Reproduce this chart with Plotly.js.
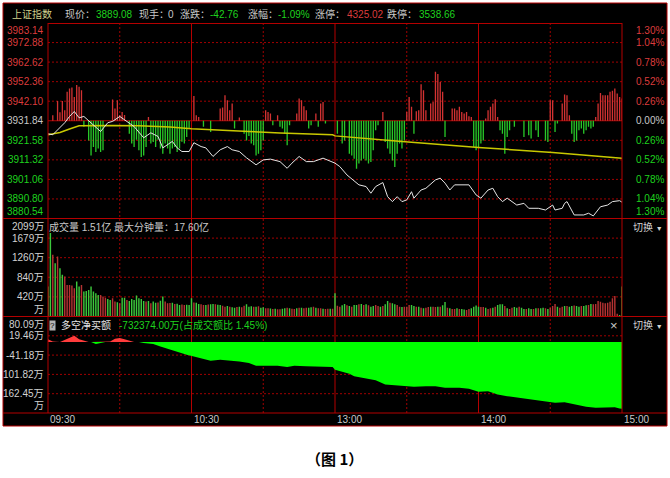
<!DOCTYPE html>
<html><head><meta charset="utf-8">
<script src="https://cdn.plot.ly/plotly-3.0.1.min.js"></script>
<style>html,body{margin:0;padding:0;background:#fff}#chart{width:670px;height:478px}</style>
</head><body><div id="chart"></div>
<script>
// ---------------- data ----------------
const priceMin = [0,2,7,9,11,13,15,18,22,25,27,30,33,36,40,43,46,48,52,54,56,59,61,64,66,69,72,75,77,80,83,87,90,93,97,100,102,105,108,111,115,119,120,122,125,130,133,135,137,140,142,144,146,148,150,152,153,156,158,162,164,166,168,170,173,176,179,181,184,186,188,190,192,196,199,201,205,208,211,212,215,216,217,220,224,226,228,231,234,236,239,240];
const priceVal = [3925.0,3924.5,3930.8,3934.1,3936.7,3933.4,3934.1,3930.8,3926.2,3930.8,3931.5,3934.1,3931.5,3928.8,3922.9,3925.5,3923.6,3917.6,3921.0,3917.6,3915.7,3915.7,3920.3,3918.3,3917.6,3913.1,3916.6,3918.3,3916.6,3915.7,3912.4,3908.7,3911.3,3911.7,3910.4,3906.9,3909.6,3913.1,3910.4,3910.4,3912.2,3910.4,3909.6,3907.8,3903.4,3898.2,3897.3,3893.8,3897.3,3899.4,3892.0,3889.4,3892.0,3889.4,3890.3,3894.6,3891.2,3895.5,3896.4,3900.8,3901.7,3899.1,3895.5,3898.2,3898.2,3898.2,3892.9,3891.2,3895.5,3896.4,3892.0,3889.4,3891.2,3887.6,3888.5,3885.9,3885.9,3885.0,3887.6,3885.0,3885.9,3888.5,3889.4,3882.4,3882.4,3883.3,3881.9,3886.7,3887.6,3889.4,3889.9,3889.08];

const avgMin = [0,5,9,13,27,38,51,60,84,97,119,120,148,180,211,240];
const avgVal = [3924.5,3925.7,3927.5,3929.2,3929.4,3929.2,3928.5,3927.6,3926.2,3925.4,3924.5,3923.9,3920.9,3917.8,3915.2,3912.2];

const prevClose = 3931.84;
// lead indicator bars (points relative to previous close)
const leadMin = [2,4,5,6,7,8,9,10,11,12,13,14,27,28,29,30,31,32,42,61,62,63,72,73,74,75,76,77,80,91,92,93,96,104,105,106,107,108,112,114,115,140,150,151,152,154,155,156,157,158,160,161,162,163,164,165,169,170,171,172,173,174,175,176,177,183,184,185,186,187,188,210,211,215,216,217,218,229,230,231,232,233,234,235,236,237,238,239,240,
 15,17,18,19,20,21,22,23,34,35,36,37,38,39,40,41,43,44,45,46,47,48,49,50,51,52,53,54,55,56,57,58,59,65,68,78,82,83,84,85,86,87,88,89,90,94,97,98,99,100,101,109,110,113,116,121,123,124,126,127,128,129,130,131,132,133,134,135,136,137,138,141,142,143,144,145,146,147,148,149,153,166,178,179,180,181,182,189,190,191,192,193,195,199,201,202,204,205,208,209,212,213,219,220,221,222,223,224,225,226,227,228];
const leadVal = [2.9,10.3,4.5,10.3,5.5,15.2,16.9,17.4,12.5,18.7,17.8,16,11.2,6.4,10.8,3,4.6,3,2,13,2.9,2,6.4,6.9,13.4,10.8,5.5,9,1.7,5.5,4.6,3.8,2.9,3.8,11.7,10.8,7.6,5.5,3.8,9,9.9,4.6,4.6,12.5,7.3,5,5.5,19.2,16,5.5,9,9.9,25.7,24.5,20.4,15.2,6.4,6.4,5.5,7.3,4.6,3.8,4.6,2.4,2,1.2,5.5,7.3,9,11.3,2,10.8,10.8,9,13.8,13.4,2.9,2,9,14.6,13.4,13.4,13.4,15.2,15.7,16.9,14.3,12.5,11.7,
 -3.2,-10.3,-18.2,-13.8,-16.4,-14.6,-16.4,-15.5,-6.8,-12,-13.8,-10,-15.5,-19,-18.2,-13.8,-12,-11.1,-13.8,-10,-14.6,-17.3,-12,-14.6,-17.3,-14.6,-13.8,-16.4,-14.6,-11,-12,-8.5,-4.1,-3.2,-5.9,-4.1,-6.8,-10.3,-8,-12,-12.9,-18.2,-17.3,-15.5,-10.3,-2.4,-3.2,-4.1,-6.8,-12.9,-2.4,-4.1,-2.4,-3.2,-1.5,-6.8,-12,-10.3,-17.3,-18.2,-19.9,-25.2,-22.5,-20.8,-19.9,-20.8,-22.5,-21.7,-15.5,-5,-2.4,-11.1,-14.6,-17.3,-20.8,-24.3,-17.3,-12,-14.6,-10.3,-6.8,-8.5,-13.8,-15.5,-13.8,-12,-10.3,-5,-6.8,-17.3,-8.5,-5,-3.2,-8.5,-7.6,-9.3,-5,-8.5,-10.3,-11.1,-5.9,-1.5,-6.8,-11.1,-10.3,-5,-4.1,-6.8,-5,-3.2,-4.1,-3.2];

// volume per minute (万), 09:30 .. 15:00
const volume = [640,1788,1322,1143,1286,1035,892,856,677,677,664,605,748,640,677,533,548,570,640,533,498,462,462,426,404,376,355,390,319,304,283,404,404,355,333,376,355,448,390,376,333,319,333,283,
 319,297,300,340,426,319,283,290,297,269,275,247,255,247,250,247,390,300,297,270,261,247,247,255,261,270,261,250,247,230,211,225,211,200,190,205,211,200,230,261,211,220,211,211,220,190,200,175,175,170,161,165,154,154,165,175,190,175,165,161,175,190,190,175,190,190,200,211,190,175,175,165,161,165,168,168,
 498,230,211,240,269,240,226,211,247,247,261,269,247,261,240,211,226,247,226,211,226,261,333,297,283,261,247,211,204,211,211,247,247,226,211,211,190,175,190,204,211,211,204,211,211,240,312,190,175,161,161,175,161,161,150,140,161,175,211,233,211,204,204,190,161,175,190,211,247,261,261,226,175,161,190,204,190,211,190,161,161,175,161,161,175,175,175,190,175,161,190,226,269,211,190,211,226,226,211,226,233,226,211,226,226,240,247,269,261,269,333,318,297,283,297,318,390,440,60,30,640];
const volColor = "GGRGRGGRRR"+"RRGGRGGGGG"+"GGRRRGGRRG"+"RGGRGGGGGG"+"GRGRGGRGGR"+"RRGRGGRRGG"+"GRGGRRGRGG"+"RGGRRGRGGR"+"GRRGGGRGRG"+"GRRGRGRRGG"+"RGRRGRGRRG"+"GRGRRGRRGR"+"GRRGGRGRGG"+"RGRGRGGRRG"+"RGGRGGRRGR"+"RRGGRGRGRR"+"GRRGRGGRGR"+"RGRGGRRGGG"+"GRRGRRGRGG"+"GRGRRGGRGG"+"RGGRGRGGRG"+"RRRGRRGRGG"+"RGGRGGRGRR"+"RRRRRRRRRG"+"G";

// net buy (万)
const nbMin = [0,2,5,7,9,11,13,15,16,17,18,20,22,24,26,28,30,32,34,36,38,40,44,47,50,54,58,61,65,68,72,77,80,84,87,91,96,100,103,108,114,119,120,123,126,128,133,137,141,145,149,153,158,162,166,172,176,180,184,188,192,197,201,206,212,216,220,225,229,233,237,239,240];
const nbVal = [9,1.6,0,6.9,12.2,19.4,9,4.7,1.6,0,0,-6.6,-3.4,0,1.6,10,12.2,9,4.7,0,0,-3.4,-6.6,-14,-21.3,-31.7,-40,-45.3,-53.5,-58.8,-55.6,-57.8,-61,-66,-74.4,-74.4,-74.4,-78.5,-74.4,-76.6,-78.5,-78.5,-86.9,-92.2,-99.4,-107.8,-116,-120.3,-133.8,-136.9,-139.1,-141,-139.1,-139.1,-144.1,-144.1,-147.2,-156.6,-154.7,-165,-170.4,-175.4,-180.7,-186,-191,-189.1,-196.3,-203.5,-206.6,-204.7,-204.7,-208.8,-210];

const priceTicks = [3983.14,3972.88,3962.62,3952.36,3942.10,3931.84,3921.58,3911.32,3901.06,3890.80,3880.54];
const pctTicks = ["1.30%","1.04%","0.78%","0.52%","0.26%","0.00%","0.26%","0.52%","0.78%","1.04%","1.30%"];
const volTicks = [2099,1679,1260,840,420,0];
const volTickText = ["2099万","1679万","1260万","840万","420万","万"];
const nbTicks = [80.09,19.46,-41.18,-101.82,-162.45,-223.08];
const nbTickText = ["80.09万","19.46万","-41.18万","101.82万","162.45万","万"];
const timeTicks = [0,60,120,180,240];
const timeText = ["09:30","10:30","13:00","14:00","15:00"];
const solidMinutes = [60,120,180];
const dashMinutes = [30,90,150,210];

// ---------------- layout helpers ----------------
const PL=48, PR=622, PT=23, PB=413;
const px = x => (x-PL)/(PR-PL);
const py = y => (PB-y)/(PB-PT);
const FONT = "Liberation Sans, Noto Sans CJK SC, sans-serif";
const RED_T = "#dc3c3c", GRN_T = "#1ed21e", GRY_T = "#c8c8c8";
const BORDER = "#b40000", GRID = "#a00000";
const annotations = [];
function ann(text, x, y, o){
  o = o||{};
  annotations.push(Object.assign({text:text, x:x, y:y, xref:'paper', yref:'paper', showarrow:false,
    xanchor:'left', yanchor:'middle', font:{family:FONT, size:10, color:GRY_T}}, o,
    {font:Object.assign({family:FONT, size:10, color:GRY_T}, o.font||{})}));
}
const shapes = [];
// frame
shapes.push({type:'rect', xref:'paper', yref:'paper', x0:px(3), x1:px(667), y0:py(3), y1:py(426), fillcolor:'#000', line:{color:BORDER, width:1}, layer:'below'});
// vertical grid
dashMinutes.forEach(m=>shapes.push({type:'line', xref:'x', yref:'paper', x0:m, x1:m, y0:0, y1:1, line:{color:GRID, width:1, dash:'2px,2px'}, layer:'below'}));
solidMinutes.forEach(m=>shapes.push({type:'line', xref:'x', yref:'paper', x0:m, x1:m, y0:0, y1:1, line:{color:BORDER, width:1}, layer:'below'}));
// horizontal grids
priceTicks.slice(1,-1).forEach(v=>shapes.push({type:'line', xref:'paper', yref:'y', x0:0, x1:1, y0:v, y1:v, line:{color:v===prevClose?BORDER:GRID, width:1, dash:v===prevClose?'solid':'2px,2px'}, layer:'below'}));
volTicks.slice(1,-1).forEach(v=>shapes.push({type:'line', xref:'paper', yref:'y2', x0:0, x1:1, y0:v, y1:v, line:{color:GRID, width:1, dash:'2px,2px'}, layer:'below'}));
nbTicks.slice(1,-1).forEach(v=>shapes.push({type:'line', xref:'paper', yref:'y3', x0:0, x1:1, y0:v, y1:v, line:{color:GRID, width:1, dash:'2px,2px'}, layer:'below'}));
// panel borders
shapes.push({type:'line', xref:'paper', yref:'paper', x0:0, x1:1, y0:py(PT+0.5), y1:py(PT+0.5), line:{color:BORDER, width:1}});
[218.5,316.5,413].forEach(y=>shapes.push({type:'line', xref:'paper', yref:'paper', x0:px(3), x1:px(667), y0:py(y), y1:py(y), line:{color:BORDER, width:1}}));
[0,1].forEach(x=>shapes.push({type:'line', xref:'paper', yref:'paper', x0:x, x1:x, y0:0, y1:1, line:{color:BORDER, width:1}}));

// header
const hy = py(14);
ann("上证指数", px(10), hy, {font:{color:"#d2d28c", size:10}});
ann("现价：", px(63), hy); ann("3889.08", px(94), hy, {font:{color:GRN_T}});
ann("现手：", px(137), hy); ann("0", px(166), hy);
ann("涨跌：", px(178), hy); ann("-42.76", px(208), hy, {font:{color:GRN_T}});
ann("涨幅：", px(246), hy); ann("-1.09%", px(276), hy, {font:{color:GRN_T}});
ann("涨停：", px(313), hy); ann("4325.02", px(345), hy, {font:{color:RED_T}});
ann("跌停：", px(385), hy); ann("3538.66", px(417), hy, {font:{color:GRN_T}});

// price axis labels
priceTicks.forEach((v,i)=>{
  const n = priceTicks.length;
  const ya = i===0?'top':(i===n-1?'bottom':'middle');
  const col = v>prevClose?RED_T:(v<prevClose?GRN_T:GRY_T);
  annotations.push({text:v.toFixed(2), x:px(46), y:v, xref:'paper', yref:'y', xanchor:'right', yanchor:ya, showarrow:false, font:{family:FONT,size:10,color:col}});
  annotations.push({text:pctTicks[i], x:px(666), y:v, xref:'paper', yref:'y', xanchor:'right', yanchor:ya, showarrow:false, font:{family:FONT,size:10,color:col}});
});
volTicks.forEach((v,i)=>{
  const ya = i===0?'top':(i===volTicks.length-1?'bottom':'middle');
  annotations.push({text:volTickText[i], x:px(46), y:v, xref:'paper', yref:'y2', xanchor:'right', yanchor:ya, showarrow:false, font:{family:FONT,size:10,color:"#d2d2d2"}});
});
nbTicks.forEach((v,i)=>{
  const ya = i===0?'top':(i===nbTicks.length-1?'bottom':'middle');
  annotations.push({text:nbTickText[i], x:px(46), y:v, xref:'paper', yref:'y3', xanchor:'right', yanchor:ya, showarrow:false, font:{family:FONT,size:10,color:"#d2d2d2"}});
});
// panel titles
ann("成交量 1.51亿 最大分钟量：17.60亿", px(47), py(227));
ann("切换 <span style='font-size:7px'>▼</span>", px(631), py(227), {font:{color:"#d2d2d2"}});
ann("?", px(49), py(325), {bgcolor:"#b4b4b4", font:{color:"#000", size:8}, borderpad:0});
ann("多空净买额", px(59), py(325), {font:{color:"#e6e6e6"}});
ann("-732374.00万(占成交额比 1.45%)", px(117), py(325), {font:{color:GRN_T}});
ann("×", px(608), py(325), {font:{color:"#c8c8c8", size:13}});
ann("切换 <span style='font-size:7px'>▼</span>", px(631), py(325), {font:{color:"#d2d2d2"}});
// time labels
timeTicks.forEach((m,i)=>annotations.push({text:timeText[i], x:m, y:py(419.5), xref:'x', yref:'paper', xanchor:'left', yanchor:'middle', showarrow:false, font:{family:FONT,size:10,color:GRY_T}}));
// caption
ann("（图 1）", px(334), py(458), {xanchor:'center', font:{family:"Noto Sans CJK SC", size:15, color:"#000", weight:700}});

// ---------------- traces ----------------
const volMin = volume.map((v,i)=>i);
const traces = [
  {type:'bar', x:leadMin, y:leadVal, base:prevClose, width:0.55, xaxis:'x', yaxis:'y',
   marker:{color:leadVal.map(v=>v>0?'#d23232':'#28c828'), line:{width:0}}, hoverinfo:'skip'},
  {type:'scatter', mode:'lines', x:avgMin, y:avgVal, xaxis:'x', yaxis:'y', line:{color:'#c8c800', width:1.5}, hoverinfo:'skip'},
  {type:'scatter', mode:'lines', x:priceMin, y:priceVal, xaxis:'x', yaxis:'y', line:{color:'#e6e6e6', width:1}, hoverinfo:'skip'},
  {type:'bar', x:volMin, y:volume, width:0.6, xaxis:'x', yaxis:'y2',
   marker:{color:volMin.map(i=>volColor[i]==='R'?'#b43232':'#3cc83c'), line:{width:0}}, hoverinfo:'skip'},
  {type:'scatter', mode:'lines', x:nbMin, y:nbVal.map(v=>Math.max(v,0)), xaxis:'x', yaxis:'y3', fill:'tozeroy', fillcolor:'#ff3c3c', line:{width:0, color:'#ff3c3c'}, hoverinfo:'skip'},
  {type:'scatter', mode:'lines', x:nbMin, y:nbVal.map(v=>Math.min(v,0)), xaxis:'x', yaxis:'y3', fill:'tozeroy', fillcolor:'#00ff00', line:{width:0, color:'#00ff00'}, hoverinfo:'skip'}
];

const axisBase = {showgrid:false, zeroline:false, showticklabels:false, showline:false, ticks:'', fixedrange:true};
const layout = {
  width:670, height:478, margin:{l:PL, r:670-PR, t:PT, b:478-PB},
  paper_bgcolor:'#ffffff', plot_bgcolor:'#000000', showlegend:false, barmode:'overlay',
  xaxis:Object.assign({}, axisBase, {range:[0,240], anchor:'y3'}),
  yaxis:Object.assign({}, axisBase, {range:[3880.54,3983.14], domain:[py(218.5),1], anchor:'x'}),
  yaxis2:Object.assign({}, axisBase, {range:[0,2099], domain:[py(316.5),py(218.5)], anchor:'x'}),
  yaxis3:Object.assign({}, axisBase, {range:[-223.08,80.09], domain:[0,py(316.5)], anchor:'x'}),
  shapes:shapes, annotations:annotations
};
Plotly.newPlot('chart', traces, layout, {staticPlot:true, displayModeBar:false});
</script></body></html>
